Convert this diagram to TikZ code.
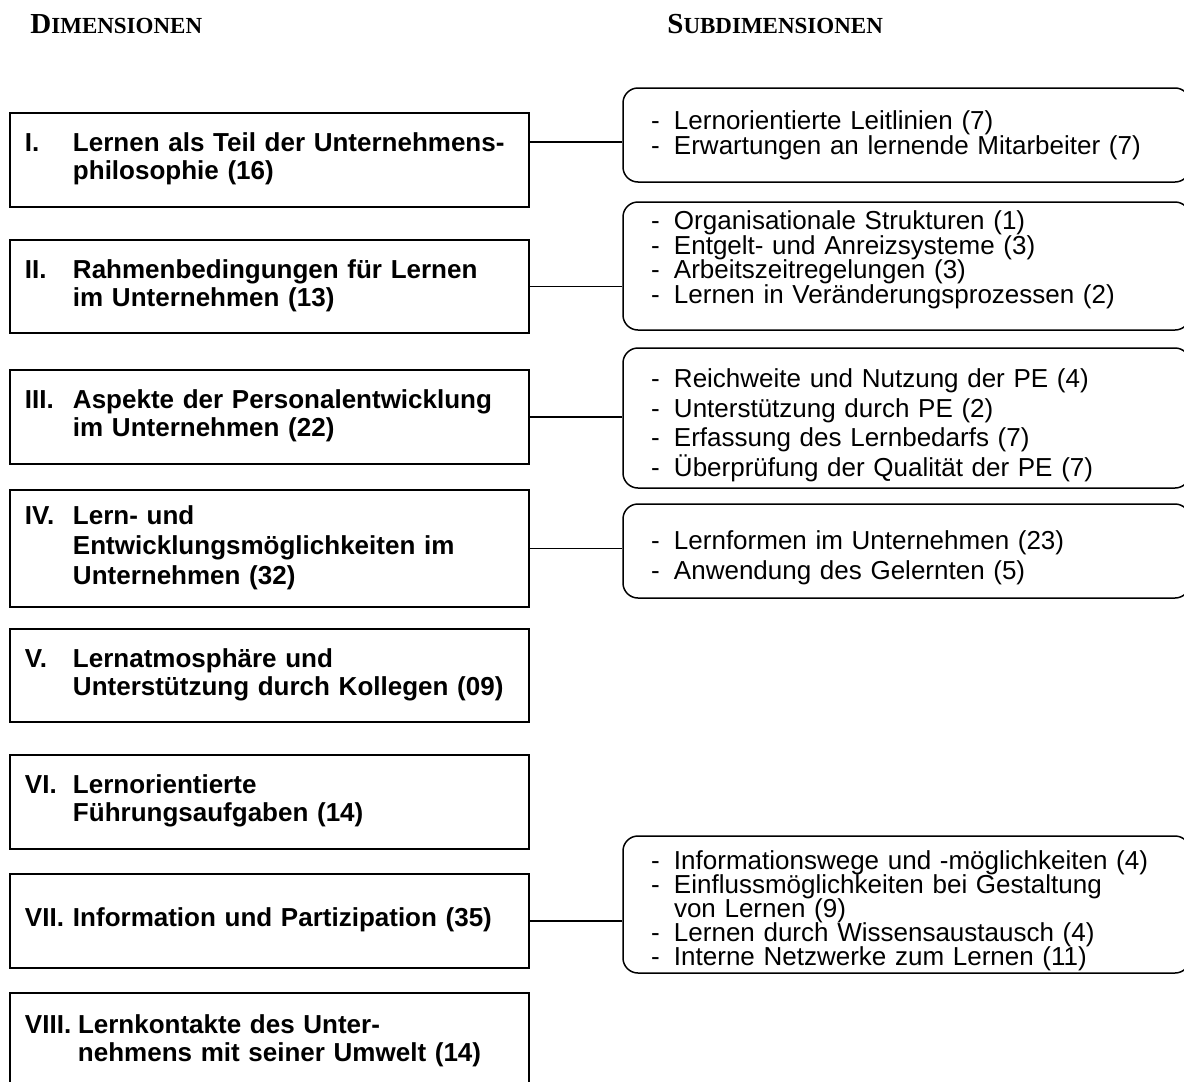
\documentclass[tikz,border=0pt]{standalone}
\usepackage{fontspec}
\setmainfont{Liberation Sans}
\newfontfamily\headserif{Liberation Serif}
\usepackage{array}
\newcommand{\hdsc}[2]{{\headserif\bfseries\fontsize{14.5}{14.5}\selectfont #1\fontsize{11.5}{11.5}\selectfont #2}}
\newcommand{\dimtxt}[2][24pt]{\begin{tabular}{@{}p{#1}@{}l@{}}#2\end{tabular}}
\newcommand{\sdash}{\makebox[11.5pt][l]{-}}
\newcommand{\sind}{\hspace*{11.5pt}}
\newcommand{\subfont}[1]{\fontsize{13}{#1}\selectfont\lineskiplimit=-100pt\relax}
\tikzset{
  dimbox/.style={draw, line width=1pt, minimum width=259.5pt, minimum height=#1,
    inner xsep=7.5pt, inner ysep=0pt, text width=244.5pt, align=left,
    font=\bfseries\fontsize{13}{14}\selectfont},
  subbox/.style={draw, line width=0.75pt, rounded corners=7.5pt, minimum width=283.5pt,
    minimum height=#1, inner xsep=14pt, inner ysep=0pt, text width=255.5pt, align=left},
  conn/.style={line width=0.75pt},
  headtxt/.style={anchor=base west, inner sep=0pt}
}
\begin{document}
\begin{tikzpicture}[x=0.5pt, y=-0.5pt]
\useasboundingbox (0,0) rectangle (1184,1082);
\node[headtxt] (h1) at (30,33) {\hdsc{D}{IMENSIONEN}};
\node[headtxt] (h2) at (667,33) {\hdsc{S}{UBDIMENSIONEN}};

\node[dimbox=47pt] (d1) at (269.5,160) {\dimtxt{I. & Lernen als Teil der Unternehmens-\\ & philosophie (16)}};
\node[dimbox=46.5pt] (d2) at (269.5,286.5) {\dimtxt{II. & Rahmenbedingungen für Lernen\\ & im Unternehmen (13)}};
\node[dimbox=47pt] (d3) at (269.5,417) {\dimtxt{III. & Aspekte der Personalentwicklung\\ & im Unternehmen (22)}};
\node[dimbox=58.5pt, font=\bfseries\fontsize{13}{15}\selectfont] (d4) at (269.5,548.5) {\dimtxt{IV. & Lern- und\\ & Entwicklungsmöglichkeiten im\\ & Unternehmen (32)}};
\node[dimbox=46.5pt] (d5) at (269.5,675.5) {\dimtxt{V. & Lernatmosphäre und\\ & Unterstützung durch Kollegen (09)}};
\node[dimbox=47pt] (d6) at (269.5,802) {\dimtxt{VI. & Lernorientierte\\ & Führungsaufgaben (14)}};
\node[dimbox=47pt] (d7) at (269.5,921) {\dimtxt{VII. & Information und Partizipation (35)}};
\node[dimbox=48.5pt] (d8) at (269.5,1041.5) {\dimtxt[26.5pt]{VIII. & Lernkontakte des Unter-\\ & nehmens mit seiner Umwelt (14)}};

\node[subbox=47pt, font=\subfont{12.5pt}] (s1) at (906.5,135)
  {\sdash Lernorientierte Leitlinien (7)\\ \sdash Erwartungen an lernende Mitarbeiter (7)};
\node[subbox=64pt, font=\subfont{12.25pt}] (s2) at (906.5,266)
  {\sdash Organisationale Strukturen (1)\\ \sdash Entgelt- und Anreizsysteme (3)\\ \sdash Arbeitszeitregelungen (3)\\ \sdash Lernen in Veränderungsprozessen (2)\rule[-8.7pt]{0pt}{0pt}};
\node[subbox=70pt, font=\subfont{14.75pt}] (s3) at (906.5,418)
  {\rule{0pt}{16.5pt}\sdash Reichweite und Nutzung der PE (4)\\ \sdash Unterstützung durch PE (2)\\ \sdash Erfassung des Lernbedarfs (7)\\ \sdash Überprüfung der Qualität der PE (7)};
\node[subbox=47pt, font=\subfont{15pt}] (s4) at (906.5,551)
  {\rule{0pt}{16.5pt}\sdash Lernformen im Unternehmen (23)\\ \sdash Anwendung des Gelernten (5)};
\node[subbox=68.5pt, font=\subfont{12pt}] (s7) at (906.5,904.5)
  {\rule{0pt}{15.5pt}\sdash Informationswege und -möglichkeiten (4)\\ \sdash Einflussmöglichkeiten bei Gestaltung\\ \sind von Lernen (9)\\ \sdash Lernen durch Wissensaustausch (4)\\ \sdash Interne Netzwerke zum Lernen (11)};

\draw[conn] ([yshift=9pt]d1.east) -- ([yshift=-3.5pt]s1.west);
\draw[conn] (d2.east) -- (d2.east -| s2.west);
\draw[conn] (d3.east) -- (d3.east -| s3.west);
\draw[conn] (d4.east) -- (d4.east -| s4.west);
\draw[conn] (d7.east) -- (d7.east -| s7.west);
\end{tikzpicture}
\end{document}
